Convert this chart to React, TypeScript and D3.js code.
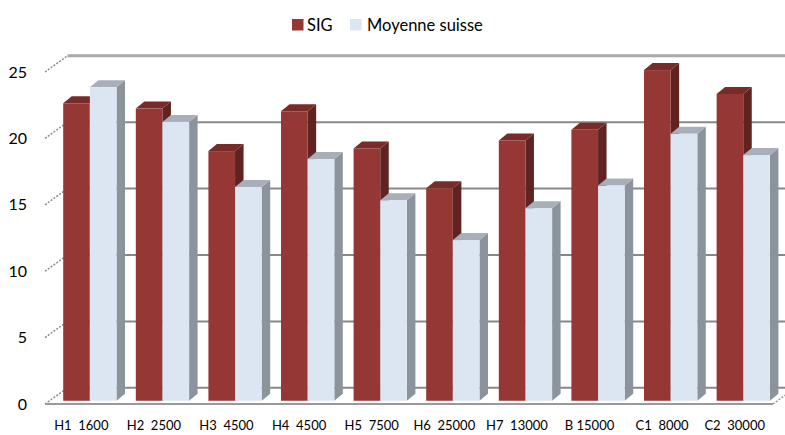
import React from 'react';
import * as d3 from 'd3';

const categories = ['H1  1600', 'H2  2500', 'H3  4500', 'H4  4500', 'H5  7500', 'H6  25000', 'H7  13000', 'B 15000', 'C1  8000', 'C2  30000'];
const seriesNames = ['SIG', 'Moyenne suisse'];
const sigValues = [22.4, 22.0, 18.8, 21.8, 19.0, 16.0, 19.6, 20.4, 24.9, 23.1];
const moyValues = [23.6, 21.0, 16.1, 18.2, 15.1, 12.1, 14.5, 16.2, 20.1, 18.5];
const yTicks = [0, 5, 10, 15, 20, 25];

const W = 785;
const H = 435;

// colours: front / top / side for each series
const palette = [
  { front: '#953735', top: '#772c2a', side: '#5f2321' },
  { front: '#dce6f2', top: '#a8afb8', side: '#8b949d' },
];

// 3d projection of the floor depth
const DX = 22.5;
const DY = -16.2;
const BAR_T = 0.2; // bar front plane, fraction of floor depth
const BAR_DX = 8.5;
const BAR_DY = -7;

const font = 'Lato, "Open Sans", sans-serif';

export default function App() {
  const x = d3.scaleBand<string>().domain(categories).range([45, 771]);
  const xs = d3.scaleBand<string>().domain(seriesNames).range([13.7, 67]);
  const yFront = d3.scaleLinear().domain([0, 25]).range([404, 72]);
  const yBack = (v: number) => yFront(v) + DY;
  const yBar = (v: number) => yFront(v) + BAR_T * DY;
  const barShift = BAR_T * DX;

  const bars: JSX.Element[] = [];
  categories.forEach((c, i) => {
    [sigValues[i], moyValues[i]].forEach((v, s) => {
      const col = palette[s];
      const x0 = (x(c) as number) + (xs(seriesNames[s]) as number) + barShift;
      const w = xs.bandwidth();
      const yt = yBar(v);
      const yb = yBar(0);
      bars.push(
        <g key={`${c}-${s}`}>
          <polygon
            points={`${x0 + w},${yt} ${x0 + w + BAR_DX},${yt + BAR_DY} ${x0 + w + BAR_DX},${yb + BAR_DY} ${x0 + w},${yb}`}
            fill={col.side}
          />
          <polygon
            points={`${x0},${yt} ${x0 + w},${yt} ${x0 + w + BAR_DX},${yt + BAR_DY} ${x0 + BAR_DX},${yt + BAR_DY}`}
            fill={col.top}
          />
          <rect x={x0} y={yt} width={w} height={yb - yt} fill={col.front} />
        </g>
      );
    });
  });

  const left = 45;
  const right = 771;

  return (
    <div style={{ position: 'fixed', left: 0, top: 0 }}>
      <svg width={W} height={H} style={{ display: 'block', background: '#fff' }}>
        {/* back wall gridlines */}
        {yTicks.map(t => (
          <line
            key={`g${t}`}
            x1={left + DX}
            x2={right + DX}
            y1={yBack(t)}
            y2={yBack(t)}
            stroke={t === 25 ? '#a9a9a9' : '#888'}
            strokeWidth={t === 25 ? 3 : 2}
          />
        ))}
        {/* side wall gridlines */}
        {yTicks.map(t => (
          <line
            key={`s${t}`}
            x1={left}
            y1={yFront(t)}
            x2={left + DX}
            y2={yBack(t)}
            stroke="#8a8a8a"
            strokeWidth={1.5}
            strokeDasharray="2,1.5"
          />
        ))}
        {/* floor front edge */}
        <line x1={left} x2={right + 2} y1={yFront(0)} y2={yFront(0)} stroke="#999" strokeWidth={2} />
        <line x1={right + 2} y1={yFront(0)} x2={right + 2 + DX} y2={yBack(0)} stroke="#999" strokeWidth={1.5} strokeDasharray="2,1.5" />

        {bars}

        {/* y axis labels */}
        {yTicks.map(t => (
          <text
            key={`yl${t}`}
            x={27}
            y={yFront(t)}
            dy="0.35em"
            textAnchor="end"
            fontFamily={font}
            fontSize={16}
            fill="#000"
          >
            {t}
          </text>
        ))}

        {/* category labels */}
        {categories.map(c => (
          <text
            key={`xl${c}`}
            x={(x(c) as number) + x.bandwidth() / 2}
            y={430}
            textAnchor="middle"
            fontFamily={font}
            fontSize={13}
            fill="#000"
            style={{ whiteSpace: 'pre' }}
          >
            {c}
          </text>
        ))}

        {/* legend */}
        <g fontFamily={font} fontSize={16.5} fill="#000">
          <rect x={292} y={19} width={11.5} height={11.5} fill={palette[0].front} />
          <text x={307} y={30.5}>{seriesNames[0]}</text>
          <rect x={350} y={19} width={11.5} height={11.5} fill={palette[1].front} />
          <text x={367} y={30.5}>{seriesNames[1]}</text>
        </g>
      </svg>
    </div>
  );
}
